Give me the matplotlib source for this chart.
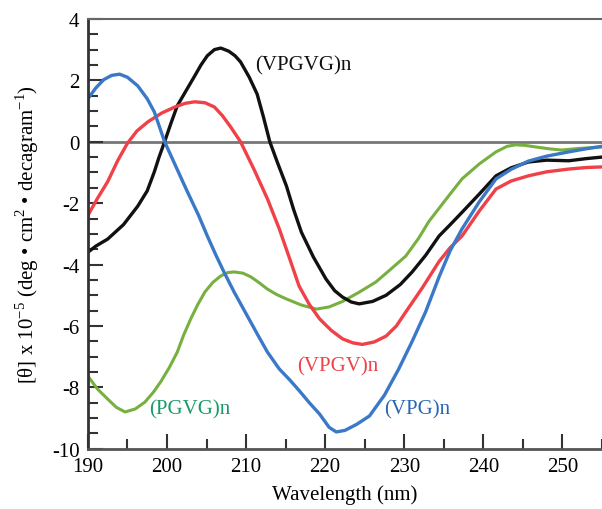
import matplotlib
matplotlib.use("Agg")
import matplotlib.pyplot as plt
from matplotlib.ticker import MultipleLocator

plt.rcParams["font.family"] = ["Liberation Serif", "DejaVu Serif"]
plt.rcParams["mathtext.fontset"] = "custom"
plt.rcParams["mathtext.rm"] = "Liberation Serif"
plt.rcParams["axes.unicode_minus"] = False

# CD spectra (wavelength nm, [theta] x 1e-5)
vpg_x = [190, 191, 192, 193, 194, 195, 196.3, 197.5, 198.4, 199.7, 201.2, 202.6, 204,
         205.1, 206.2, 207.2, 208.5, 210, 211.5, 212.7, 214.2, 215.5, 216.7, 218,
         219.3, 220.5, 221.4, 222.5, 224, 225.6, 227.5, 229.3, 231, 232.7, 234.4,
         235.8, 237.3, 239.5, 241.6, 243.5, 245.7, 248, 250.8, 253, 255]
vpg_y = [1.4, 1.75, 2.02, 2.16, 2.2, 2.1, 1.82, 1.4, 0.97, 0.0, -0.85, -1.64, -2.4,
         -3.07, -3.7, -4.24, -4.9, -5.6, -6.3, -6.85, -7.4, -7.75, -8.1, -8.5,
         -8.87, -9.3, -9.45, -9.4, -9.2, -8.93, -8.25, -7.4, -6.5, -5.54, -4.4,
         -3.55, -2.84, -1.95, -1.21, -0.9, -0.63, -0.47, -0.33, -0.23, -0.15]

vpgv_x = [190, 191.2, 192.5, 193.8, 195, 196.2, 197.6, 199.3, 201, 202.3, 203.5, 204.8,
          206, 207, 208, 209.3, 211, 212.7, 214.2, 215.5, 216.7, 218, 219.3, 220.8,
          222.2, 223.5, 224.7, 226.2, 227.7, 229, 230.2, 232.3, 234.4, 235.8, 237.3,
          239.5, 241.6, 243.5, 245.7, 248, 250.8, 253, 255]
vpgv_y = [-2.4, -1.85, -1.3, -0.6, -0.05, 0.35, 0.65, 0.93, 1.13, 1.25, 1.3, 1.27,
          1.13, 0.85, 0.5, 0.0, -0.9, -1.86, -2.84, -3.8, -4.7, -5.3, -5.77, -6.15,
          -6.42, -6.55, -6.6, -6.52, -6.33, -6.0, -5.54, -4.75, -3.9, -3.45, -3.07,
          -2.25, -1.54, -1.28, -1.11, -0.98, -0.89, -0.84, -0.82]

vpgvg_x = [190, 191, 192.5, 194.5, 196.3, 197.5, 198.4, 199, 199.7, 200.5, 201.3, 202.5,
           203.5, 204.3, 205.1, 206, 206.8, 207.8, 208.6, 209.3, 210.4, 211.4, 212.2,
           213, 214, 215.1, 216, 217, 218.5, 220.1, 221.2, 222.2, 223.3, 224.3, 226,
           227.7, 229.5, 231, 232.7, 234.4, 236, 237.3, 239.5, 241.6, 243.5, 245.7,
           248, 250.8, 253, 255]
vpgvg_y = [-3.6, -3.4, -3.17, -2.7, -2.1, -1.6, -0.98, -0.5, 0.0, 0.6, 1.17, 1.7,
           2.14, 2.5, 2.8, 3.0, 3.05, 2.95, 2.8, 2.6, 2.1, 1.55, 0.8, 0.0, -0.7,
           -1.44, -2.2, -2.95, -3.75, -4.47, -4.85, -5.06, -5.22, -5.28, -5.2, -5.0,
           -4.65, -4.24, -3.7, -3.07, -2.65, -2.3, -1.7, -1.11, -0.85, -0.66, -0.6,
           -0.62, -0.55, -0.5]

pgvg_x = [190, 191.2, 192.5, 193.6, 194.7, 196, 197.2, 198.3, 199.2, 200.3, 201.3, 202.1,
          203, 203.9, 204.8, 205.8, 206.8, 207.7, 208.5, 209.6, 210.6, 211.7, 212.7,
          213.9, 215.1, 217, 218.9, 220.5, 222.2, 224.3, 226.4, 228.3, 230.2, 231.8,
          233.1, 235.2, 237.3, 239.5, 241.6, 243, 244.1, 245.3, 246.6, 248.3, 249.9,
          252, 255]
pgvg_y = [-7.63, -8.05, -8.38, -8.65, -8.8, -8.7, -8.48, -8.15, -7.82, -7.35, -6.85,
          -6.3, -5.77, -5.3, -4.89, -4.58, -4.37, -4.26, -4.24, -4.28, -4.4, -4.6,
          -4.8, -4.98, -5.12, -5.32, -5.45, -5.38, -5.2, -4.9, -4.57, -4.15, -3.72,
          -3.15, -2.6, -1.9, -1.21, -0.72, -0.33, -0.15, -0.1, -0.12, -0.17, -0.23,
          -0.27, -0.22, -0.17]

fig = plt.figure(figsize=(6.02, 5.10), dpi=100)
ax = fig.add_axes([0.146, 0.118, 0.854, 0.843])

ax.axhline(0, color="#777777", linewidth=2, zorder=1)
ax.plot(pgvg_x, pgvg_y, color="#78b040", linewidth=2.2, solid_joinstyle="round")
ax.plot(vpgvg_x, vpgvg_y, color="#111111", linewidth=2.4, solid_joinstyle="round")
ax.plot(vpgv_x, vpgv_y, color="#f04048", linewidth=2.4, solid_joinstyle="round")
ax.plot(vpg_x, vpg_y, color="#3a78c8", linewidth=2.4, solid_joinstyle="round")

ax.text(211.1, 2.5, "(VPGVG)n", color="#111111", fontsize=15, va="center")
ax.text(216.4, -7.3, "(VPGV)n", color="#f04048", fontsize=15, va="center")
ax.text(197.8, -8.7, "(PGVG)n", color="#1a9a6a", fontsize=15, va="center")
ax.text(227.4, -8.7, "(VPG)n", color="#2a66b4", fontsize=15, va="center")

ax.set_xlim(190, 255)
ax.set_ylim(-10, 4)
ax.xaxis.set_major_locator(MultipleLocator(10))
ax.xaxis.set_minor_locator(MultipleLocator(5))
ax.yaxis.set_major_locator(MultipleLocator(2))
ax.yaxis.set_minor_locator(MultipleLocator(0.5))
ax.tick_params(which="both", direction="in", color="#333333", width=1.5,
               labelsize=15, top=False, right=False)
ax.tick_params(which="major", length=11, pad=6)
ax.tick_params(which="minor", length=7)

ax.spines["right"].set_visible(False)
ax.spines["top"].set_color("#666666")
ax.spines["left"].set_color("#333333")
ax.spines["bottom"].set_color("#555555")
ax.spines["left"].set_linewidth(2)
ax.spines["bottom"].set_linewidth(2)
ax.spines["top"].set_linewidth(1.5)

ax.set_xlabel("Wavelength (nm)", fontsize=15, labelpad=6)
ax.set_ylabel(r"[θ] x 10$^{-5}$ (deg • cm$^{2}$ • decagram$^{-1}$)", fontsize=15,
              labelpad=8)

fig.savefig("out.png", dpi=100)
